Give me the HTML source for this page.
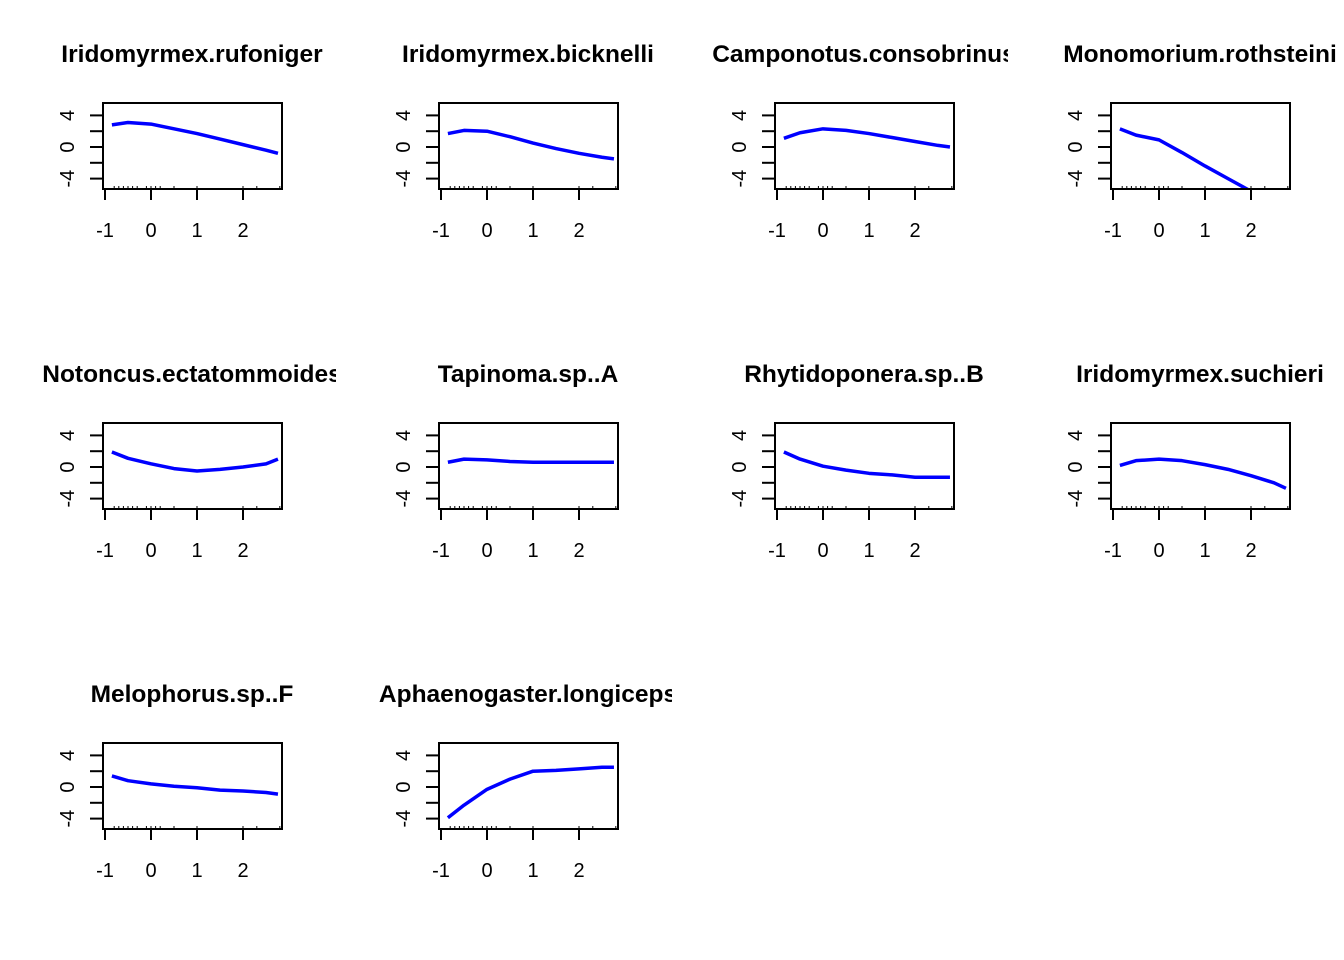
<!DOCTYPE html>
<html><head><meta charset="utf-8"><style>
body{margin:0;background:#fff}
svg{display:block}
text{font-family:"Liberation Sans",Arial,sans-serif}
</style></head><body>
<svg id="c" width="1344" height="960"></svg>
<script>
const titles=["Iridomyrmex.rufoniger","Iridomyrmex.bicknelli","Camponotus.consobrinus","Monomorium.rothsteini","Notoncus.ectatommoides","Tapinoma.sp..A","Rhytidoponera.sp..B","Iridomyrmex.suchieri","Melophorus.sp..F","Aphaenogaster.longiceps"];
const xVals=[-0.85,-0.5,0,0.5,1,1.5,2,2.5,2.76];
const s1=[2.8,3.1,2.9,2.3,1.7,1.0,0.3,-0.4,-0.8];
const s2=[1.7,2.1,2.0,1.3,0.5,-0.2,-0.8,-1.3,-1.5];
const s3=[1.1,1.8,2.3,2.1,1.7,1.2,0.7,0.2,0.0];
const s4=[2.3,1.5,0.9,-0.7,-2.4,-4.0,-5.6,-7.3,-8.2];
const s5=[1.9,1.1,0.4,-0.2,-0.5,-0.3,0.0,0.4,1.0];
const s6=[0.6,1.0,0.9,0.7,0.6,0.6,0.6,0.6,0.6];
const s7=[1.9,1.0,0.1,-0.4,-0.8,-1.0,-1.3,-1.3,-1.3];
const s8=[0.2,0.8,1.0,0.8,0.3,-0.3,-1.1,-2.0,-2.7];
const s9=[1.4,0.8,0.4,0.1,-0.1,-0.4,-0.5,-0.7,-0.9];
const s10=[-3.9,-2.3,-0.3,1.0,2.0,2.1,2.3,2.5,2.5];
const series=[s1,s2,s3,s4,s5,s6,s7,s8,s9,s10];
const xTicks=[-1,0,1,2];
const yTicks=[4,2,0,-2,-4];
const yLabels=[4,0,-4];

const svg=document.getElementById('c');
const NS="http://www.w3.org/2000/svg";
function mk(t,a,p){const e=document.createElementNS(NS,t);for(const k in a)e.setAttribute(k,a[k]);(p||svg).appendChild(e);return e;}
const defs=mk('defs',{});
series.forEach((ys,i)=>{
  const col=i%4,row=Math.floor(i/4);
  const ox=col*336,oy=row*320;
  const g=mk('g',{});
  
  
  const X=v=>ox+151+v*46, Y=v=>oy+147-v*7.9;
  const cp=mk('clipPath',{id:'tc'+i},defs);mk('rect',{x:ox,y:oy,width:336,height:320},cp);
  const bc=mk('clipPath',{id:'bc'+i},defs);mk('rect',{x:ox+103,y:oy+103,width:179,height:86},bc);
  const tg=mk('g',{'clip-path':'url(#tc'+i+')'},g);
  const t=mk('text',{x:ox+192,y:oy+62,'text-anchor':'middle','font-size':'24.5','font-weight':'bold'},tg);
  t.textContent=titles[i];
  
  
  const pts=xVals.map((x,j)=>X(x)+','+Y(ys[j])).join(' ');
  const ln=mk('polyline',{points:pts,fill:'none',stroke:'#0000ff','stroke-width':3.5,'stroke-linejoin':'round','clip-path':'url(#bc'+i+')'},g);
  
  
  [-0.8,-0.7,-0.6,-0.5,-0.4,-0.3,-0.1,0,0.1,0.2,0.5,1.0,2.0,2.3,2.8].forEach(r=>mk('line',{x1:X(r),x2:X(r),y1:oy+189,y2:oy+186,stroke:'#000','stroke-width':1},g));
  const box=mk('rect',{x:ox+103,y:oy+103,width:179,height:86,fill:'none',stroke:'#000','stroke-width':2},g);
  
  
  xTicks.forEach(v=>{
    mk('line',{x1:X(v),x2:X(v),y1:oy+189,y2:oy+200,stroke:'#000','stroke-width':2},g);
    const tl=mk('text',{x:X(v),y:oy+237,'text-anchor':'middle','font-size':'20'},g);tl.textContent=v;
    
    
  });
  yTicks.forEach(v=>mk('line',{x1:ox+90,x2:ox+103,y1:Y(v),y2:Y(v),stroke:'#000','stroke-width':2},g));
  yLabels.forEach(v=>{
    const tl=mk('text',{x:ox+74,y:Y(v),'text-anchor':'middle','font-size':'20',transform:'rotate(-90 '+(ox+74)+' '+Y(v)+')'},g);tl.textContent=v;
    
    
  });
});
</script>
</body></html>
